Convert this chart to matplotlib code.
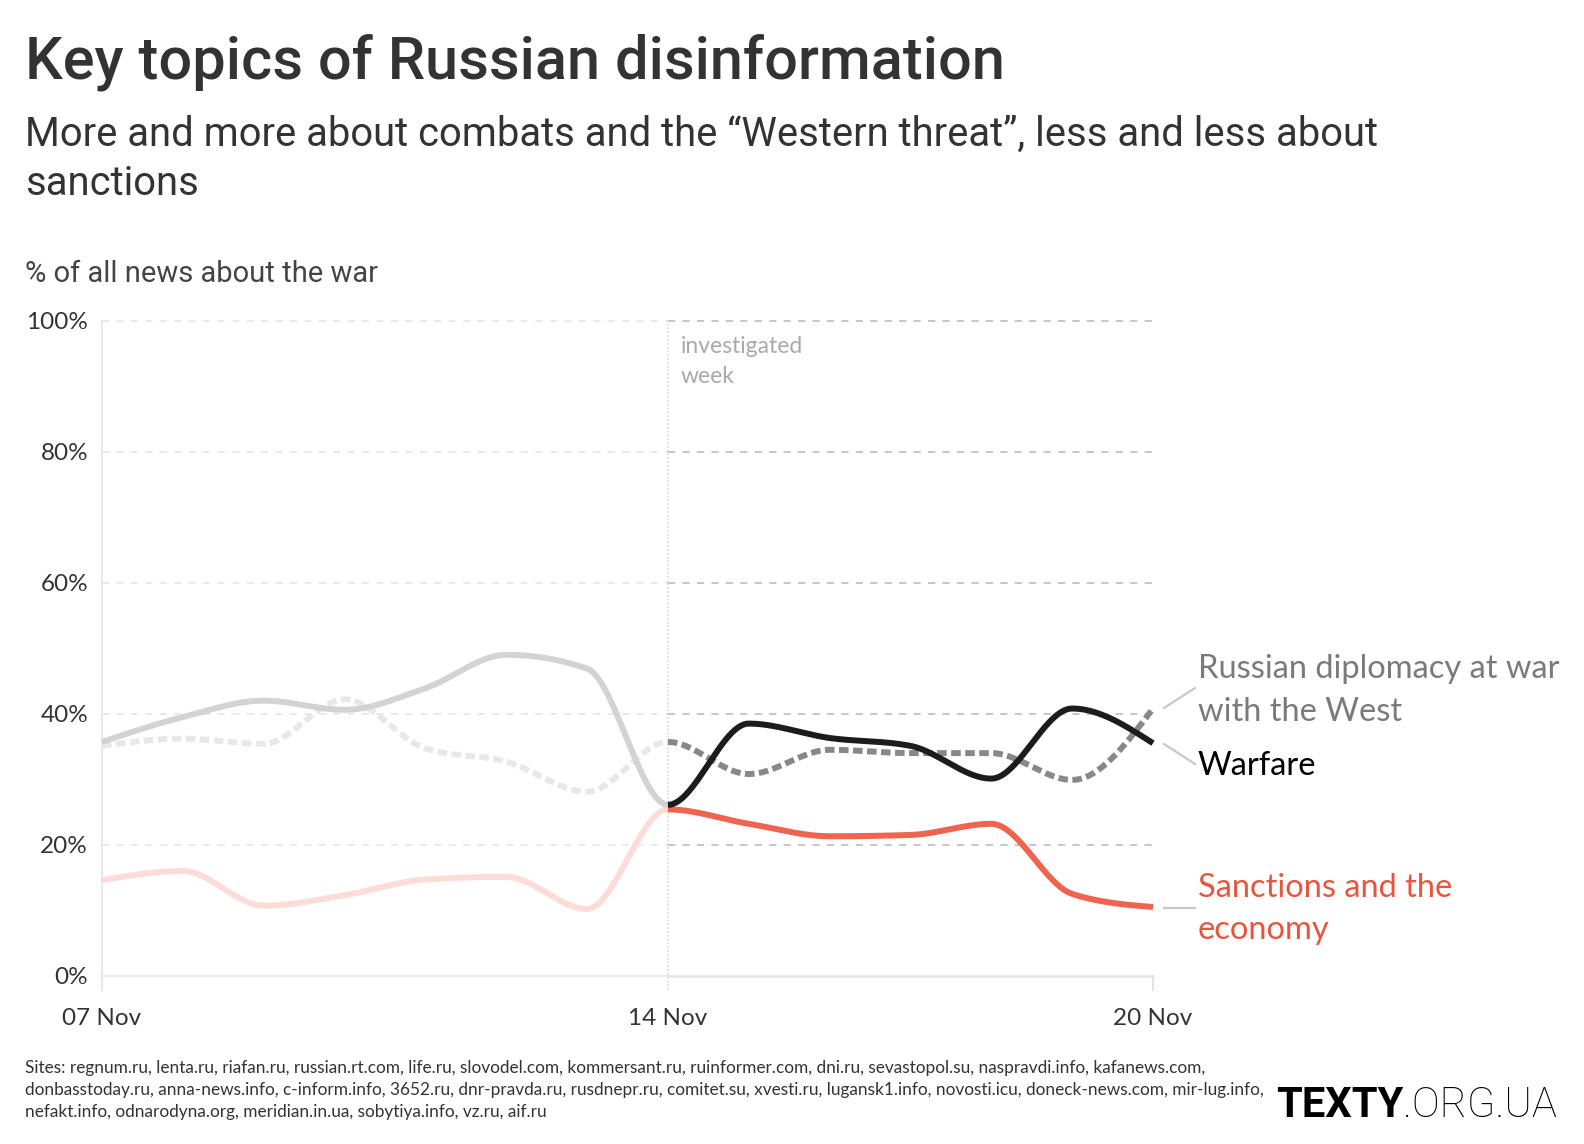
import numpy as np
import matplotlib
matplotlib.use("Agg")
import matplotlib.pyplot as plt
from matplotlib.lines import Line2D

# ---------------- data ----------------
dates = ["07 Nov", "08 Nov", "09 Nov", "10 Nov", "11 Nov", "12 Nov", "13 Nov",
         "14 Nov", "15 Nov", "16 Nov", "17 Nov", "18 Nov", "19 Nov", "20 Nov"]
warfare = [35.7, 39.5, 42.0, 40.6, 43.9, 49.0, 46.9,
           26.1, 38.5, 36.3, 35.1, 30.1, 40.8, 35.5]
diplomacy = [35.1, 36.2, 35.4, 42.2, 34.7, 32.7, 28.1,
             35.7, 30.8, 34.5, 34.0, 34.0, 29.9, 40.8]
sanctions = [14.6, 16.0, 10.7, 12.3, 14.7, 15.1, 10.2,
             25.4, 23.2, 21.3, 21.5, 23.2, 12.5, 10.5]
split_label = "14 Nov"
x_tick_labels = ["07 Nov", "14 Nov", "20 Nov"]
y_ticks = [0, 20, 40, 60, 80, 100]
y_tick_labels = ["0%", "20%", "40%", "60%", "80%", "100%"]
series_labels = {
    "diplomacy": ["Russian diplomacy at war", "with the West"],
    "warfare": ["Warfare"],
    "sanctions": ["Sanctions and the", "economy"],
}
sites = [
    "Sites: regnum.ru, lenta.ru, riafan.ru, russian.rt.com, life.ru, slovodel.com, kommersant.ru, ruinformer.com, dni.ru, sevastopol.su, naspravdi.info, kafanews.com,",
    "donbasstoday.ru, anna-news.info, c-inform.info, 3652.ru, dnr-pravda.ru, rusdnepr.ru, comitet.su, xvesti.ru, lugansk1.info, novosti.icu, doneck-news.com, mir-lug.info,",
    "nefakt.info, odnarodyna.org, meridian.in.ua, sobytiya.info, vz.ru, aif.ru",
]

# ---------------- helpers ----------------
W, H, DPI = 1584, 1144, 100
TITLE_FONT = ["Roboto", "DejaVu Sans"]
BODY_FONT = ["Lato", "DejaVu Sans"]


def fx(px):
    return px / W


def fy(py):
    return 1 - py / H


def _sgn(v):
    return -1.0 if v < 0 else 1.0


def monotone_curve(x, y, n=60):
    """d3.curveMonotoneX style interpolation through the data points."""
    x = np.asarray(x, float)
    y = np.asarray(y, float)
    h = np.diff(x)
    s = np.diff(y) / h
    m = np.zeros_like(y)
    for i in range(1, len(y) - 1):
        h0, h1, s0, s1 = h[i - 1], h[i], s[i - 1], s[i]
        p = (s0 * h1 + s1 * h0) / (h0 + h1)
        m[i] = (_sgn(s0) + _sgn(s1)) * min(abs(s0), abs(s1), 0.5 * abs(p)) or 0.0
    m[0] = (3 * s[0] - m[1]) / 2
    m[-1] = (3 * s[-1] - m[-2]) / 2
    xs, ys = [], []
    for i in range(len(h)):
        t = np.linspace(0, 1, n, endpoint=(i == len(h) - 1))
        h00 = 2 * t**3 - 3 * t**2 + 1
        h10 = t**3 - 2 * t**2 + t
        h01 = -2 * t**3 + 3 * t**2
        h11 = t**3 - t**2
        xs.append(x[i] + t * h[i])
        ys.append(h00 * y[i] + h10 * h[i] * m[i] + h01 * y[i + 1] + h11 * h[i] * m[i + 1])
    return np.concatenate(xs), np.concatenate(ys)


# ---------------- figure ----------------
fig = plt.figure(figsize=(W / DPI, H / DPI), dpi=DPI)
fig.patch.set_facecolor("white")

ax_left, ax_right, ax_top, ax_bottom = 102, 1153, 320.7, 975.8
ax = fig.add_axes([fx(ax_left), fy(ax_bottom), (ax_right - ax_left) / W,
                   (ax_bottom - ax_top) / H])
xpos = np.arange(len(dates))
split = dates.index(split_label)
xmax = xpos[-1]
ax.set_xlim(0, xmax)
ax.set_ylim(0, 100)
for sp in ax.spines.values():
    sp.set_visible(False)

# grid
for yv in y_ticks[1:]:
    ax.plot([0, split], [yv, yv], color="#e8e8e8", lw=1.3,
            linestyle=(0, (4, 4)), clip_on=False, zorder=1)
    ax.plot([split, xmax], [yv, yv], color="#c2c2c2", lw=1.3,
            linestyle=(0, (4, 4)), clip_on=False, zorder=1)
ax.plot([0, split], [0, 0], color="#ececec", lw=1.6, clip_on=False, zorder=1)
ax.plot([split, xmax], [0, 0], color="#e8e8e8", lw=2.0, clip_on=False, zorder=1)
tick_low = -2.2
ax.plot([0, 0], [tick_low, 100], color="#e8e8e8", lw=1.4, clip_on=False, zorder=1)
ax.plot([split, split], [tick_low, 100], color="#cfcfcf", lw=1.1,
        linestyle=(0, (1, 1.5)), clip_on=False, zorder=1)
ax.plot([xmax, xmax], [tick_low, 0], color="#e2e2e2", lw=1.4, clip_on=False, zorder=1)

# ticks
ax.set_yticks(y_ticks)
ax.set_yticklabels(y_tick_labels)
ax.set_xticks([xpos[dates.index(d)] for d in x_tick_labels])
ax.set_xticklabels(x_tick_labels)
ax.tick_params(axis="y", length=0, pad=10, labelsize=17.5, labelcolor="#333333")
ax.tick_params(axis="x", length=0, pad=23, labelsize=17.5, labelcolor="#333333")
for lab in ax.get_xticklabels() + ax.get_yticklabels():
    lab.set_family(BODY_FONT)

# lines
LW = 4.3
dash = (0, (1.6, 0.75))
styles = [
    (sanctions, "#fbdcd6", "#ee6450", "-"),
    (diplomacy, "#e8e8e8", "#888888", dash),
    (warfare, "#d3d3d3", "#1c1c1c", "-"),
]
for vals, pale, strong, ls in styles:
    cx, cy = monotone_curve(xpos, vals)
    pre = cx <= split
    ax.plot(cx[pre], cy[pre], color=pale, lw=LW, linestyle=ls,
            solid_capstyle="butt", clip_on=False, zorder=2)
for vals, pale, strong, ls in styles:
    cx, cy = monotone_curve(xpos, vals)
    post = cx >= split
    ax.plot(cx[post], cy[post], color=strong, lw=LW, linestyle=ls,
            solid_capstyle="butt", clip_on=False, zorder=3)

# investigated week
fig.text(fx(681), fy(353), "investigated", fontsize=16.5, color="#aaaaaa",
         family=BODY_FONT, va="baseline")
fig.text(fx(681), fy(383), "week", fontsize=16.5, color="#aaaaaa",
         family=BODY_FONT, va="baseline")

# leader lines
lead_col = "#c8c8c8"
for (x0, y0, x1, y1) in [(1164, 708, 1195, 688), (1164, 744, 1195, 764),
                         (1164, 908, 1195, 908)]:
    fig.add_artist(Line2D([fx(x0), fx(x1)], [fy(y0), fy(y1)],
                          transform=fig.transFigure, color=lead_col, lw=1.6))

# series labels
lab_x = 1198
lab_fs = 23.5
for i, line in enumerate(series_labels["diplomacy"]):
    fig.text(fx(lab_x), fy(678 + 43 * i), line, fontsize=lab_fs, color="#7a7a7a",
             family=BODY_FONT, va="baseline")
fig.text(fx(lab_x), fy(775), series_labels["warfare"][0], fontsize=lab_fs,
         color="#000000", family=BODY_FONT, va="baseline")
for i, line in enumerate(series_labels["sanctions"]):
    fig.text(fx(lab_x), fy(897 + 42 * i), line, fontsize=lab_fs, color="#e8553e",
             family=BODY_FONT, va="baseline")

# titles
fig.text(fx(25), fy(78.5), "Key topics of Russian disinformation", fontsize=42.8,
         color="#333333", family=TITLE_FONT, weight="medium", va="baseline")
fig.text(fx(25), fy(146), "More and more about combats and the \u201cWestern threat\u201d, less and less about",
         fontsize=28.8, color="#333333", family=TITLE_FONT, va="baseline")
fig.text(fx(25), fy(195), "sanctions", fontsize=28.8, color="#333333",
         family=TITLE_FONT, va="baseline")
fig.text(fx(25), fy(281.5), "% of all news about the war", fontsize=21,
         color="#444444", family=TITLE_FONT, va="baseline")

# footer
for i, line in enumerate(sites):
    fig.text(fx(25), fy(1073 + 22 * i), line, fontsize=12.4, color="#333333",
             family=BODY_FONT, va="baseline")

t1 = fig.text(fx(1276), fy(1117), "TEXTY", fontsize=30, color="#000000",
              family=TITLE_FONT, weight="bold", va="baseline")
ax.annotate(".ORG.UA", xy=(1, 0), xycoords=t1, va="bottom", ha="left",
            fontsize=30, color="#000000", family=TITLE_FONT, weight="light",
            annotation_clip=False)

fig.savefig("out.png", dpi=DPI, facecolor="white")
